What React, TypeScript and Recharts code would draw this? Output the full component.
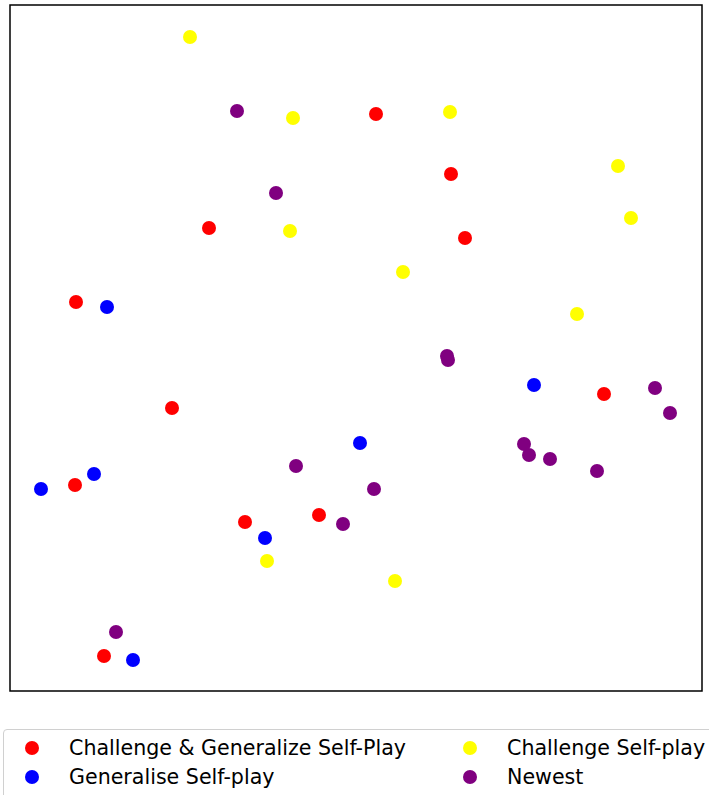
import React from 'react';
import { ScatterChart, Scatter, XAxis, YAxis, ReferenceArea } from 'recharts';

// point positions (x right, y up, frame = 0..692 x 0..686)
const redX = [366, 441, 199, 455, 66, 162, 594, 65, 235, 309, 94];
const redY = [577, 517, 463, 453, 389, 283, 297, 206, 169, 176, 35];
const blueX = [97, 524, 350, 84, 31, 255, 123];
const blueY = [384, 306, 248, 217, 202, 153, 31];
const yellowX = [180, 283, 440, 608, 621, 280, 393, 567, 257, 385];
const yellowY = [654, 573, 579, 525, 473, 460, 419, 377, 130, 110];
const purpleX = [227, 266, 437, 438, 645, 660, 514, 519, 540, 587, 286, 364, 333, 106];
const purpleY = [580, 498, 335, 331, 303, 278, 247, 236, 232, 220, 225, 202, 167, 59];

const seriesNames = ['Challenge & Generalize Self-Play', 'Generalise Self-play', 'Challenge Self-play', 'Newest'];
const seriesColors = ['#ff0000', '#0000ff', '#ffff00', '#800080'];

const zip = (xs: number[], ys: number[]) => xs.map((x, i) => ({ x, y: ys[i] }));
const series = [zip(redX, redY), zip(blueX, blueY), zip(yellowX, yellowY), zip(purpleX, purpleY)];

const dot = (color: string) => (props: any) => (
  <circle cx={props.cx} cy={props.cy} r={7} fill={color} />
);

const LegendBox = () => {
  // column-wise order like matplotlib: red, blue | yellow, purple
  const cells = [
    { i: 0, left: 0, top: 0 },
    { i: 1, left: 0, top: 29 },
    { i: 2, left: 438, top: 0 },
    { i: 3, left: 438, top: 29 },
  ];
  return (
    <div
      style={{
        position: 'absolute',
        left: 3,
        top: 729,
        width: 712,
        height: 70,
        border: '1.5px solid #d0d0d0',
        borderRadius: 4,
        boxSizing: 'border-box',
        background: '#fff',
        fontFamily: 'DejaVu Sans',
        fontSize: 20.6,
        color: '#000',
      }}
    >
      {cells.map((c) => (
        <div key={c.i} style={{ position: 'absolute', left: c.left, top: c.top + 5, height: 26, display: 'flex', alignItems: 'center' }}>
          <span
            style={{
              display: 'inline-block',
              width: 14,
              height: 14,
              borderRadius: 7,
              background: seriesColors[c.i],
              marginLeft: 21,
              flexShrink: 0,
            }}
          />
          <span style={{ marginLeft: 30, whiteSpace: 'nowrap' }}>{seriesNames[c.i]}</span>
        </div>
      ))}
    </div>
  );
};

export default function App() {
  return (
    <div style={{ position: 'absolute', left: 0, top: 0, width: 709, height: 795, background: '#fff', overflow: 'hidden' }}>
      <ScatterChart width={709} height={795} margin={{ top: 5, left: 10, right: 7, bottom: 104 }}>
        <XAxis type="number" dataKey="x" domain={[0, 692]} hide />
        <YAxis type="number" dataKey="y" domain={[0, 686]} hide />
        <ReferenceArea x1={0} x2={692} y1={0} y2={686} fill="none" stroke="#000" strokeWidth={1.5} ifOverflow="visible" />
        {series.map((d, i) => (
          <Scatter key={i} name={seriesNames[i]} data={d} fill={seriesColors[i]} shape={dot(seriesColors[i])} isAnimationActive={false} />
        ))}
      </ScatterChart>
      <LegendBox />
    </div>
  );
}
